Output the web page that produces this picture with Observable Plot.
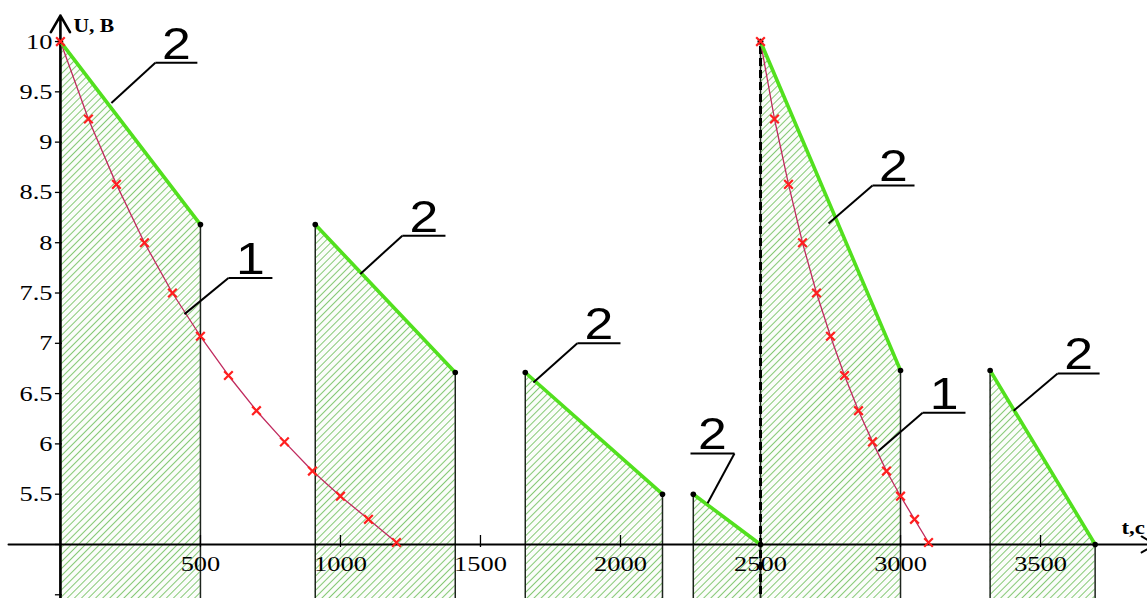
<!DOCTYPE html>
<html>
<head>
<meta charset="utf-8">
<script src="https://cdn.jsdelivr.net/npm/d3@7"></script>
<script src="https://cdn.jsdelivr.net/npm/@observablehq/plot@0.6"></script>
<style>
  html, body { margin: 0; padding: 0; background: #fff; }
  #chart svg { display: block; }
</style>
</head>
<body>
<div id="chart"></div>
<script>
// Curve 1: sampled voltage decay (two runs, same voltages, different time steps)
const run1Times = [0, 100, 200, 300, 400, 500, 600, 700, 800, 900, 1000, 1100, 1200];
const run2Times = [2500, 2550, 2600, 2650, 2700, 2750, 2800, 2850, 2900, 2950, 3000, 3050, 3100];
const decayVolts = [10, 9.23, 8.58, 8.0, 7.5, 7.07, 6.68, 6.33, 6.02, 5.73, 5.48, 5.25, 5.02];

// Curve 2: piecewise-linear discharge intervals (start/end time and voltage)
const intervalStartT = [0, 910, 1660, 2260, 2500, 3320];
const intervalEndT   = [500, 1410, 2150, 2500, 3000, 3695];
const intervalStartU = [10, 8.18, 6.71, 5.5, 10, 6.73];
const intervalEndU   = [8.18, 6.71, 5.5, 5.0, 6.73, 5.0];

// Restart moment (dashed marker)
const restartT = [2500];
const restartU = 10;

// Axes
const axisU = 5;
const xTickValues = [500, 1000, 1500, 2000, 2500, 3000, 3500];
const xTickLabels = ["500", "1000", "1500", "2000", "2500", "3000", "3500"];
const yTickValues = [4.5, 5, 5.5, 6, 6.5, 7, 7.5, 8, 8.5, 9, 9.5, 10];
const yLabelValues = [5.5, 6, 6.5, 7, 7.5, 8, 8.5, 9, 9.5, 10];
const yLabelTexts = ["5.5", "6", "6.5", "7", "7.5", "8", "8.5", "9", "9.5", "10"];
const yAxisTitle = "U, В";
const xAxisTitle = "t,с";

// Callouts: number, underline span (t) at voltage, leader end point
const calloutLabel  = ["2", "2", "1", "2", "2", "2", "1", "2"];
const calloutLeftT  = [339, 1221, 600, 1846, 2250, 2900, 3079, 3561];
const calloutRightT = [489, 1375, 757, 2000, 2407, 3050, 3232, 3711];
const calloutU      = [9.79, 8.07, 7.65, 7.0, 5.905, 8.57, 6.31, 6.70];
const leaderFromRight = [false, false, false, false, true, false, false, false];
const leaderEndT    = [182, 1071, 443, 1689, 2311, 2743, 2921, 3404];
const leaderEndU    = [9.39, 7.69, 7.29, 6.61, 5.41, 8.19, 5.93, 6.33];

// ---- layout ----
const W = 1147, H = 598;
const xDomain = [-214, 3882];
const yDomain = [4.463, 10.408];
const tPerPx = (xDomain[1] - xDomain[0]) / W;
const uPerPx = (yDomain[1] - yDomain[0]) / H;
const bottomU = yDomain[0] - 0.2;

const serif = "Liberation Serif";
const sans = "Liberation Sans";

// ---- derived tables ----
const decayRows = [
  ...run1Times.map((t, i) => ({run: 1, t, u: decayVolts[i]})),
  ...run2Times.map((t, i) => ({run: 2, t, u: decayVolts[i]}))
];
const intervalRows = intervalStartT.flatMap((t0, i) => [
  {seg: i, t: t0, u: intervalStartU[i]},
  {seg: i, t: intervalEndT[i], u: intervalEndU[i]}
]);
const cornerRows = [...intervalRows, {seg: 4, t: restartT[0], u: restartU}];
const callouts = calloutLabel.map((label, i) => ({
  label,
  left: calloutLeftT[i],
  right: calloutRightT[i],
  mid: (calloutLeftT[i] + calloutRightT[i]) / 2,
  u: calloutU[i],
  from: leaderFromRight[i] ? calloutRightT[i] : calloutLeftT[i],
  endT: leaderEndT[i],
  endU: leaderEndU[i]
}));

const plot = Plot.plot({
  width: W,
  height: H,
  marginTop: 0, marginRight: 0, marginBottom: 0, marginLeft: 0,
  x: {domain: xDomain, axis: null},
  y: {domain: yDomain, axis: null},
  style: {background: "#fff", overflow: "hidden"},
  marks: [
    // hatched areas under the piecewise discharge
    Plot.areaY(intervalRows, {x: "t", y1: () => bottomU, y2: "u", z: "seg", fill: "url(#hatch)"}),
    // vertical edges of each interval
    Plot.ruleX(intervalRows, {x: "t", y1: () => bottomU, y2: "u", stroke: "#1d241d", strokeWidth: 1.5}),
    // axes
    Plot.arrow([0], {x1: () => xDomain[0] + 8 * tPerPx, y1: () => axisU, x2: () => xDomain[1] + 8 * tPerPx, y2: () => axisU,
      stroke: "#000", strokeWidth: 2, headLength: 12}),
    Plot.arrow([0], {x1: () => 0, y1: () => bottomU, x2: () => 0, y2: () => 10.258,
      stroke: "#000", strokeWidth: 2.6, headLength: 11}),
    Plot.ruleY(yTickValues, {y: d => d, x1: () => -5 * tPerPx, x2: () => 2 * tPerPx, stroke: "#000", strokeWidth: 1.3}),
    Plot.ruleX(xTickValues, {x: d => d, y1: () => axisU - 3 * uPerPx, y2: () => axisU + 9 * uPerPx, stroke: "#000", strokeWidth: 1.3}),
    Plot.text(yLabelValues, {x: () => 0, y: d => d, text: (d, i) => yLabelTexts[i],
      dx: -8, textAnchor: "end", lineAnchor: "middle", fontSize: 22, fontFamily: serif, fill: "#000"}),
    Plot.text(xTickValues, {x: d => d, y: () => axisU, text: (d, i) => xTickLabels[i],
      dy: 19, textAnchor: "middle", lineAnchor: "middle", fontSize: 22, fontFamily: serif, fill: "#000"}),
    // dashed restart marker
    Plot.ruleX(restartT, {x: d => d, y1: () => bottomU, y2: () => restartU, stroke: "#000", strokeWidth: 3, strokeDasharray: "8,4"}),
    // curve 1
    Plot.line(decayRows, {x: "t", y: "u", z: "run", stroke: "#c02a5e", strokeWidth: 1.3}),
    // curve 2
    Plot.line(intervalRows, {x: "t", y: "u", z: "seg", stroke: "#52e01e", strokeWidth: 3.6}),
    Plot.dot(cornerRows, {x: "t", y: "u", r: 2.8, fill: "#000"}),
    Plot.dot(decayRows, {x: "t", y: "u", symbol: "times", r: 4, stroke: "#ff1f1f", strokeWidth: 2.2}),
    // callouts
    Plot.link(callouts, {x1: "from", y1: "u", x2: "endT", y2: "endU", stroke: "#000", strokeWidth: 2}),
    Plot.link(callouts, {x1: "left", y1: "u", x2: "right", y2: "u", stroke: "#000", strokeWidth: 2}),
    Plot.text(callouts, {x: "mid", y: "u", text: "label", dy: -4, lineAnchor: "bottom",
      textAnchor: "middle", fontSize: 45, fontFamily: sans, fill: "#000"}),
    // axis titles
    Plot.text([yAxisTitle], {x: () => 0, y: () => 10, text: d => d, dx: 13, dy: -15,
      textAnchor: "start", lineAnchor: "middle", fontSize: 18, fontWeight: "bold", fontFamily: serif, fill: "#000"}),
    Plot.text([xAxisTitle], {x: () => xDomain[1], y: () => axisU, text: d => d, dx: -26, dy: -17,
      textAnchor: "start", lineAnchor: "middle", fontSize: 19, fontWeight: "bold", fontFamily: serif, fill: "#000"})
  ]
});

// hatch pattern used by the interval areas
const defs = d3.select(plot).insert("defs", ":first-child");
const pat = defs.append("pattern")
  .attr("id", "hatch")
  .attr("patternUnits", "userSpaceOnUse")
  .attr("width", 5).attr("height", 5)
  .attr("patternTransform", "rotate(45)");
pat.append("rect").attr("width", 5).attr("height", 5).attr("fill", "#fbfdfa");
pat.append("line").attr("x1", 0).attr("y1", 0).attr("x2", 0).attr("y2", 5)
  .attr("stroke", "#5fb84a").attr("stroke-width", 1.5);

document.getElementById("chart").appendChild(plot);

// the labels are set slightly wide: stretch each text about its anchor
d3.select(plot).selectAll("text").each(function () {
  const size = parseFloat(getComputedStyle(this).fontSize);
  const k = size > 30 ? 1.15 : 1.2;
  let tr = this.getAttribute("transform");
  if (!tr) {
    const x = +this.getAttribute("x") || 0;
    const y = +this.getAttribute("y") || 0;
    this.removeAttribute("x");
    this.removeAttribute("y");
    tr = `translate(${x},${y})`;
  }
  this.setAttribute("transform", `${tr} scale(${k},1)`);
});
</script>
</body>
</html>
